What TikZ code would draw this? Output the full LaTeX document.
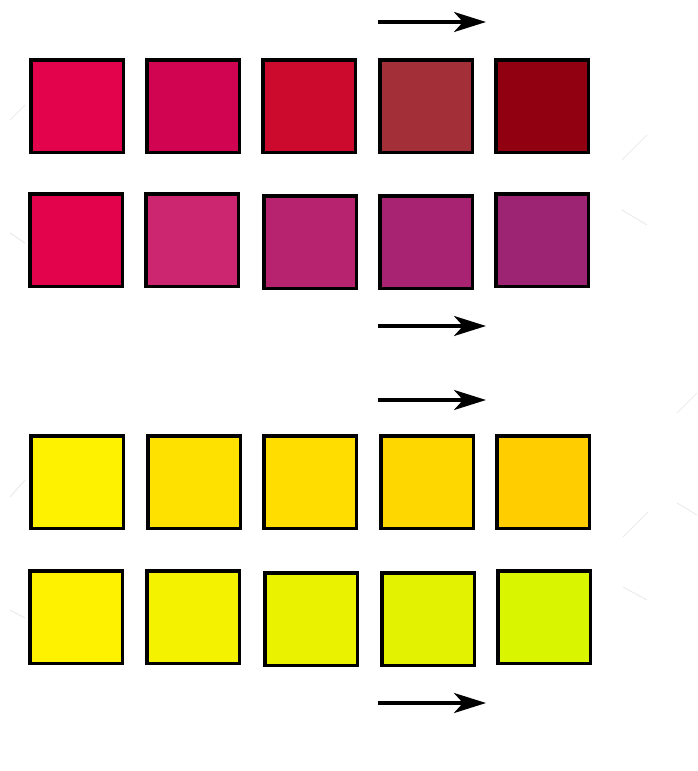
\documentclass[tikz,border=0pt]{standalone}
\usetikzlibrary{arrows.meta}

\definecolor{rA1}{HTML}{E3034D}
\definecolor{rA2}{HTML}{D00450}
\definecolor{rA3}{HTML}{CC0A2E}
\definecolor{rA4}{HTML}{A32F38}
\definecolor{rA5}{HTML}{900010}
\definecolor{rB1}{HTML}{E3034D}
\definecolor{rB2}{HTML}{CC2670}
\definecolor{rB3}{HTML}{B8236F}
\definecolor{rB4}{HTML}{A82472}
\definecolor{rB5}{HTML}{9C2472}
\definecolor{yA1}{HTML}{FFF200}
\definecolor{yA2}{HTML}{FFE100}
\definecolor{yA3}{HTML}{FFDD00}
\definecolor{yA4}{HTML}{FFD700}
\definecolor{yA5}{HTML}{FFCD00}
\definecolor{yB1}{HTML}{FFF200}
\definecolor{yB2}{HTML}{F5F200}
\definecolor{yB3}{HTML}{EBF200}
\definecolor{yB4}{HTML}{E3F200}
\definecolor{yB5}{HTML}{D9F500}

\tikzset{
  swatch/.style={draw=black, line width=3.5pt, minimum size=92.5pt, inner sep=0pt, fill=#1},
  shift arrow/.style={line width=3.5pt, -{Stealth[length=32pt, width=20pt, inset=9pt]}},
  ghost/.style={black!8, line width=1pt}
}

\begin{document}
\begin{tikzpicture}[x=1pt, y=-1pt]
  \useasboundingbox (0,0) rectangle (698,771);

  % faint marks at the margins
  \foreach \ax/\ay/\bx/\by in {10/120/25/105, 10/233/25/243, 622/160/647/135,
      622/210/647/225, 677/413/697/393, 623/537/648/512, 677/503/697/515,
      623/587/647/600, 10/497/25/480, 10/610/25/618}
    \draw[ghost] (\ax,\ay) -- (\bx,\by);

  % red row: towards dark red
  \foreach \i/\x/\y in {1/77/106, 2/193/106, 3/309/106, 4/426/106, 5/542/106}
    \node[swatch=rA\i] (rA\i) at (\x,\y) {};
  % red row: towards purple
  \foreach \i/\x/\y in {1/76/240, 2/192/240, 3/310/242, 4/426/242, 5/542/240}
    \node[swatch=rB\i] (rB\i) at (\x,\y) {};

  % yellow row: towards orange
  \foreach \i/\x/\y in {1/77/482, 2/194/482, 3/310/482, 4/427/482, 5/543/482}
    \node[swatch=yA\i] (yA\i) at (\x,\y) {};
  % yellow row: towards green
  \foreach \i/\x/\y in {1/76/617, 2/193/617, 3/311/619, 4/428/619, 5/544/617}
    \node[swatch=yB\i] (yB\i) at (\x,\y) {};

  % arrows
  \foreach \n/\y in {one/22, two/326, three/400, four/703} {
    \coordinate (\n s) at (378,\y);
    \coordinate (\n e) at (486,\y);
    \draw[shift arrow] (\n s) -- (\n e);
  }

\end{tikzpicture}
\end{document}
